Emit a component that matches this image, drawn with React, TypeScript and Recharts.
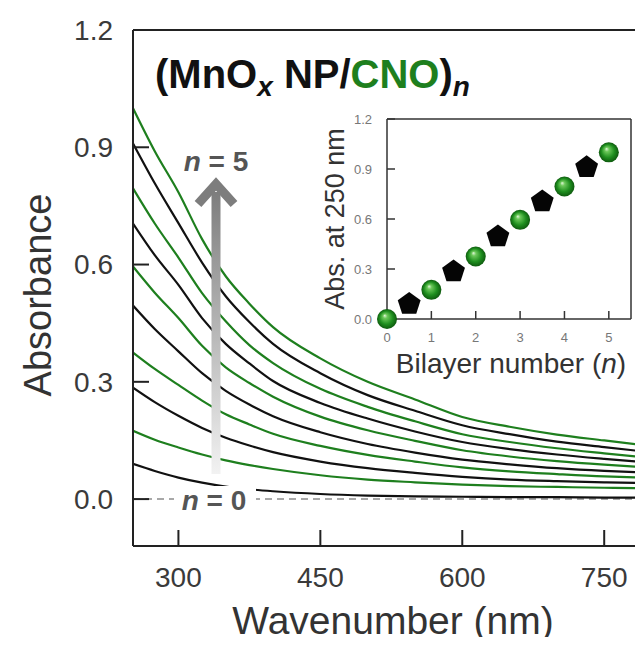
import { LineChart, Line, XAxis, YAxis, ReferenceLine, ScatterChart, Scatter } from 'recharts';

// UV-vis spectra of the (MnOx NP/CNO)n multilayer, sampled wavelengths in nm
const wavelengths = [252, 275, 300, 325, 350, 375, 400, 450, 500, 550, 600, 650, 700, 750, 791];

// absorbance after each deposited layer (half-integer n = MnOx NP on top, integer n = CNO on top)
const absN05 = [0.09, 0.072, 0.055, 0.042, 0.032, 0.025, 0.02, 0.013, 0.009, 0.007, 0.006, 0.005, 0.005, 0.004, 0.004];
const absN10 = [0.175, 0.152, 0.132, 0.114, 0.099, 0.087, 0.077, 0.061, 0.05, 0.043, 0.037, 0.033, 0.031, 0.029, 0.028];
const absN15 = [0.285, 0.248, 0.213, 0.182, 0.157, 0.137, 0.12, 0.096, 0.079, 0.067, 0.057, 0.05, 0.046, 0.043, 0.041];
const absN20 = [0.375, 0.333, 0.292, 0.252, 0.217, 0.191, 0.167, 0.136, 0.113, 0.096, 0.081, 0.071, 0.064, 0.058, 0.055];
const absN25 = [0.495, 0.435, 0.378, 0.322, 0.277, 0.242, 0.212, 0.171, 0.141, 0.119, 0.101, 0.089, 0.079, 0.072, 0.068];
const absN30 = [0.595, 0.528, 0.463, 0.392, 0.337, 0.297, 0.262, 0.211, 0.176, 0.149, 0.125, 0.109, 0.097, 0.088, 0.082];
const absN35 = [0.705, 0.624, 0.548, 0.463, 0.397, 0.347, 0.302, 0.246, 0.206, 0.173, 0.146, 0.128, 0.114, 0.103, 0.095];
const absN40 = [0.795, 0.705, 0.618, 0.527, 0.455, 0.394, 0.348, 0.282, 0.236, 0.199, 0.166, 0.146, 0.13, 0.117, 0.107];
const absN45 = [0.91, 0.808, 0.706, 0.605, 0.519, 0.453, 0.397, 0.322, 0.266, 0.226, 0.189, 0.166, 0.147, 0.133, 0.122];
const absN50 = [1.0, 0.89, 0.785, 0.665, 0.57, 0.5, 0.44, 0.36, 0.3, 0.255, 0.21, 0.185, 0.165, 0.15, 0.138];

// inset: absorbance at 250 nm vs. bilayer number
const bilayers = [0, 0.5, 1, 1.5, 2, 2.5, 3, 3.5, 4, 4.5, 5];
const absAt250 = [0.0, 0.09, 0.175, 0.285, 0.375, 0.495, 0.595, 0.705, 0.795, 0.91, 1.0];

const GREEN = '#1e7f1e';
const BLACK = '#111111';
const FONT = '"Liberation Sans", Arial, Helvetica, sans-serif';

const spectra = [
  { key: 'n05', values: absN05, color: BLACK },
  { key: 'n10', values: absN10, color: GREEN },
  { key: 'n15', values: absN15, color: BLACK },
  { key: 'n20', values: absN20, color: GREEN },
  { key: 'n25', values: absN25, color: BLACK },
  { key: 'n30', values: absN30, color: GREEN },
  { key: 'n35', values: absN35, color: BLACK },
  { key: 'n40', values: absN40, color: GREEN },
  { key: 'n45', values: absN45, color: BLACK },
  { key: 'n50', values: absN50, color: GREEN },
];

const spectraRows = wavelengths.map((wl, i) => {
  const row: Record<string, number> = { wl };
  spectra.forEach(s => {
    row[s.key] = s.values[i];
  });
  return row;
});

const insetPoints = bilayers.map((n, i) => ({ n, abs: absAt250[i] }));
const cnoPoints = insetPoints.filter(p => Number.isInteger(p.n));
const mnoxPoints = insetPoints.filter(p => !Number.isInteger(p.n));

function Sphere(props: any) {
  const { cx, cy } = props;
  if (cx == null || cy == null) return null;
  return <circle cx={cx} cy={cy} r={10} fill="url(#cnoSphere)" />;
}

function Pentagon(props: any) {
  const { cx, cy } = props;
  if (cx == null || cy == null) return null;
  const r = 12;
  const pts = [0, 1, 2, 3, 4]
    .map(k => {
      const a = -Math.PI / 2 + (k * 2 * Math.PI) / 5;
      return `${cx + r * Math.cos(a)},${cy + r * Math.sin(a)}`;
    })
    .join(' ');
  return <polygon points={pts} fill="#050505" />;
}

export default function App() {
  const tickStyle = { fontSize: 28, fill: '#3a3a3a', fontFamily: FONT };
  const insetTick = { fontSize: 13, fill: '#777', fontFamily: FONT };

  return (
    <div style={{ position: 'relative', width: 643, height: 645, margin: -8, overflow: 'hidden', background: '#fff' }}>
      <svg width={0} height={0} style={{ position: 'absolute' }}>
        <defs>
          <radialGradient id="cnoSphere" cx="50%" cy="50%" r="50%" fx="38%" fy="32%">
            <stop offset="0%" stopColor="#e4f7dc" />
            <stop offset="22%" stopColor="#6cc85a" />
            <stop offset="65%" stopColor="#1f8f1f" />
            <stop offset="100%" stopColor="#0e5a0e" />
          </radialGradient>
          <linearGradient id="arrowFade" x1="0" y1="0" x2="0" y2="1">
            <stop offset="0%" stopColor="#7d7d7d" />
            <stop offset="100%" stopColor="#f2f2f2" />
          </linearGradient>
        </defs>
      </svg>

      <div style={{ position: 'absolute', left: 0, top: 0 }}>
        <LineChart width={643} height={645} data={spectraRows} margin={{ top: 30, right: 0, bottom: 0, left: 0 }}>
          <XAxis
            dataKey="wl"
            type="number"
            domain={[252, 791]}
            allowDataOverflow
            ticks={[300, 450, 600, 750]}
            height={99}
            tickSize={-16}
            tickMargin={37}
            tick={tickStyle}
            axisLine={{ stroke: '#222', strokeWidth: 2 }}
            tickLine={{ stroke: '#222', strokeWidth: 2 }}
          />
          <YAxis
            type="number"
            domain={[-0.12, 1.2]}
            allowDataOverflow
            ticks={[0, 0.3, 0.6, 0.9, 1.2]}
            tickFormatter={(v: number) => v.toFixed(1)}
            width={133}
            tickSize={-16}
            tickMargin={36}
            tick={tickStyle}
            axisLine={{ stroke: '#222', strokeWidth: 2 }}
            tickLine={{ stroke: '#222', strokeWidth: 2 }}
          />
          <ReferenceLine y={1.2} stroke="#222" strokeWidth={2} />
          <ReferenceLine y={0} stroke="#a8a8a8" strokeWidth={2} strokeDasharray="7 5" />
          {spectra.map(s => (
            <Line
              key={s.key}
              dataKey={s.key}
              type="monotone"
              stroke={s.color}
              strokeWidth={2.2}
              dot={false}
              isAnimationActive={false}
            />
          ))}
        </LineChart>
      </div>

      <div style={{ position: 'absolute', left: 300, top: 100 }}>
        <ScatterChart width={343} height={300} margin={{ top: 19, right: 12, bottom: 27, left: 47 }}>
          <XAxis
            dataKey="n"
            type="number"
            domain={[0, 5.5]}
            ticks={[0, 1, 2, 3, 4, 5]}
            height={54}
            tickSize={-8}
            tickMargin={22}
            tick={insetTick}
            axisLine={{ stroke: '#333', strokeWidth: 1.5 }}
            tickLine={{ stroke: '#333', strokeWidth: 1.5 }}
          />
          <YAxis
            dataKey="abs"
            type="number"
            domain={[0, 1.2]}
            ticks={[0, 0.3, 0.6, 0.9, 1.2]}
            tickFormatter={(v: number) => v.toFixed(1)}
            width={40}
            tickSize={-8}
            tickMargin={23}
            tick={insetTick}
            axisLine={{ stroke: '#333', strokeWidth: 1.5 }}
            tickLine={{ stroke: '#333', strokeWidth: 1.5 }}
          />
          <ReferenceLine y={1.2} stroke="#333" strokeWidth={1.5} />
          <ReferenceLine x={5.5} stroke="#333" strokeWidth={1.5} />
          <Scatter data={mnoxPoints} shape={Pentagon} isAnimationActive={false} />
          <Scatter data={cnoPoints} shape={Sphere} isAnimationActive={false} />
        </ScatterChart>
      </div>

      <svg
        width={643}
        height={645}
        style={{ position: 'absolute', left: 0, top: 0, pointerEvents: 'none', fontFamily: FONT }}
      >
        {/* title */}
        <text x={155} y={88} fontSize={40} fontWeight="bold" fill="#111">
          <tspan>(MnO</tspan>
          <tspan fontSize={28} fontStyle="italic" dy={8}>x</tspan>
          <tspan dy={-8}> NP/</tspan>
          <tspan fill={GREEN}>CNO</tspan>
          <tspan>)</tspan>
          <tspan fontSize={28} fontStyle="italic" dy={8}>n</tspan>
        </text>

        {/* growth arrow */}
        <rect x={211.5} y={192} width={9} height={282} fill="url(#arrowFade)" />
        <polyline
          points="198,204 216,184 234,204"
          fill="none"
          stroke="#7d7d7d"
          strokeWidth={9}
          strokeLinejoin="miter"
        />
        <text x={216} y={171} textAnchor="middle" fontSize={28} fontWeight="bold" fill="#555">
          <tspan fontStyle="italic">n</tspan>
          <tspan> = 5</tspan>
        </text>

        <rect x={174} y={486} width={82} height={26} fill="#fff" />
        <text x={214} y={510} textAnchor="middle" fontSize={28} fontWeight="bold" fill="#555">
          <tspan fontStyle="italic">n</tspan>
          <tspan> = 0</tspan>
        </text>

        {/* axis titles */}
        <text x={393} y={634} textAnchor="middle" fontSize={39} fill="#333">
          Wavenumber (nm)
        </text>
        <text
          x={0}
          y={0}
          transform="translate(51 295) rotate(-90)"
          textAnchor="middle"
          fontSize={38}
          fill="#333"
        >
          Absorbance
        </text>
        <text
          x={0}
          y={0}
          transform="translate(344 219) rotate(-90)"
          textAnchor="middle"
          fontSize={27}
          fill="#333"
        >
          Abs. at 250 nm
        </text>
        <text x={511} y={373} textAnchor="middle" fontSize={28} fill="#333">
          Bilayer number (<tspan fontStyle="italic">n</tspan>)
        </text>
      </svg>
    </div>
  );
}
